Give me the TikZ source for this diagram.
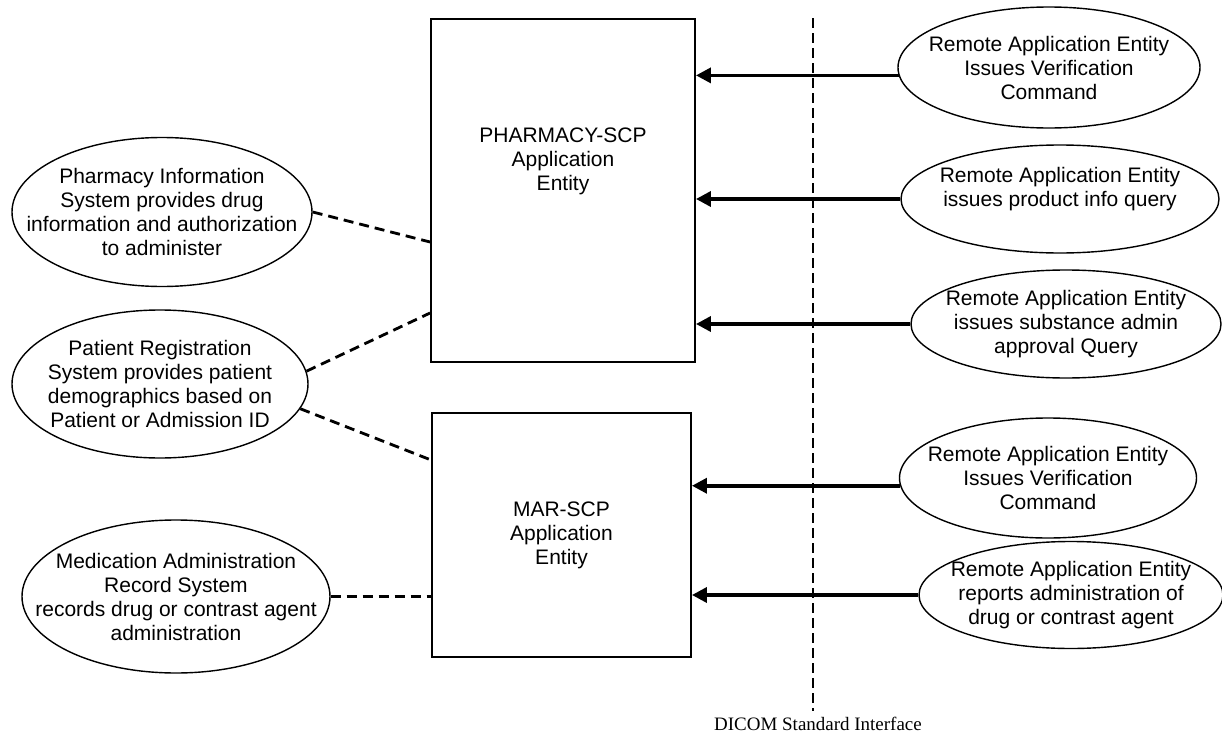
\documentclass[tikz,border=0pt]{standalone}
\usepackage{fontspec}
\setmainfont{Liberation Sans}
\newfontfamily\dicomfont{Liberation Serif}
\usetikzlibrary{arrows.meta,shapes.geometric}

\begin{document}
\begin{tikzpicture}[
  ent/.style={draw=black,line width=1.1pt,font=\fontsize{11.95}{13.66}\selectfont,align=center,inner sep=0pt},
  sys/.style={ellipse,draw=black,line width=0.8pt,font=\fontsize{11.95}{13.66}\selectfont,align=center,inner xsep=-0.8cm,inner ysep=0pt},
  msg/.style={line width=2pt,-{Triangle[length=0.3cm,width=0.3cm]}},
  link/.style={line width=1.6pt,dash pattern=on 0.2cm off 0.12cm},
  ifc/.style={line width=1.5pt,dash pattern=on 0.2cm off 0.1cm}]
\useasboundingbox (0,0) rectangle (24.44,-14.72);
\node[ent,minimum width=5.28cm,minimum height=6.86cm] (pharm) at (11.26,-3.81) {PHARMACY-SCP\\Application\\Entity\\[0.76cm]\mbox{}};
\node[ent,minimum width=5.18cm,minimum height=4.88cm] (mar) at (11.23,-10.7) {MAR-SCP\\Application\\Entity};
\node[sys,minimum width=6.0cm,minimum height=2.98cm] (l1) at (3.24,-4.24) {Pharmacy Information\\System provides drug\\information and authorization\\to administer};
\node[sys,minimum width=5.92cm,minimum height=2.96cm] (l2) at (3.2,-7.68) {Patient Registration\\System provides patient\\demographics based on\\Patient or Admission ID};
\node[sys,minimum width=6.16cm,minimum height=3.06cm] (l3) at (3.52,-11.93) {Medication Administration\\Record System\\records drug or contrast agent\\administration};
\node[sys,minimum width=6.04cm,minimum height=2.42cm] (r1) at (20.98,-1.35) {Remote Application Entity\\Issues Verification\\Command};
\node[sys,minimum width=6.36cm,minimum height=2.16cm] (r2) at (21.2,-3.98) {Remote Application Entity\\issues product info query\\\mbox{}};
\node[sys,minimum width=6.2cm,minimum height=2.16cm] (r3) at (21.32,-6.48) {Remote Application Entity\\issues substance admin\\approval Query};
\node[sys,minimum width=5.94cm,minimum height=2.4cm] (r4) at (20.96,-9.56) {Remote Application Entity\\Issues Verification\\Command};
\node[sys,minimum width=6.08cm,minimum height=2.14cm] (r5) at (21.42,-11.9) {Remote Application Entity\\reports administration of\\drug or contrast agent};
\node[font=\dicomfont\fontsize{10.8}{13}\selectfont,inner sep=0.1cm,anchor=base] (dicom) at (16.36,-14.6) {DICOM Standard Interface};
\coordinate (ifctop) at (16.26,-0.36);
\draw[ifc] (ifctop) -- (ifctop |- dicom.north);
\draw[msg] (r1.183) -- (r1.183 -| pharm.east);
\draw[msg] (r2.west) -- (r2.west -| pharm.east);
\draw[msg] (r3.west) -- (r3.west -| pharm.east);
\draw[msg] (r4.183) -- (r4.183 -| mar.east);
\draw[msg] (r5.west) -- (r5.west -| mar.east);
\draw[link] (l1.east) -- ([yshift=-1.03cm]pharm.west);
\draw[link] (l2.5) -- ([yshift=-2.45cm]pharm.west);
\draw[link] (l2.-10) -- ([yshift=1.5cm]mar.west);
\draw[link] (l3.east) -- (l3.east -| mar.west);
\end{tikzpicture}
\end{document}
